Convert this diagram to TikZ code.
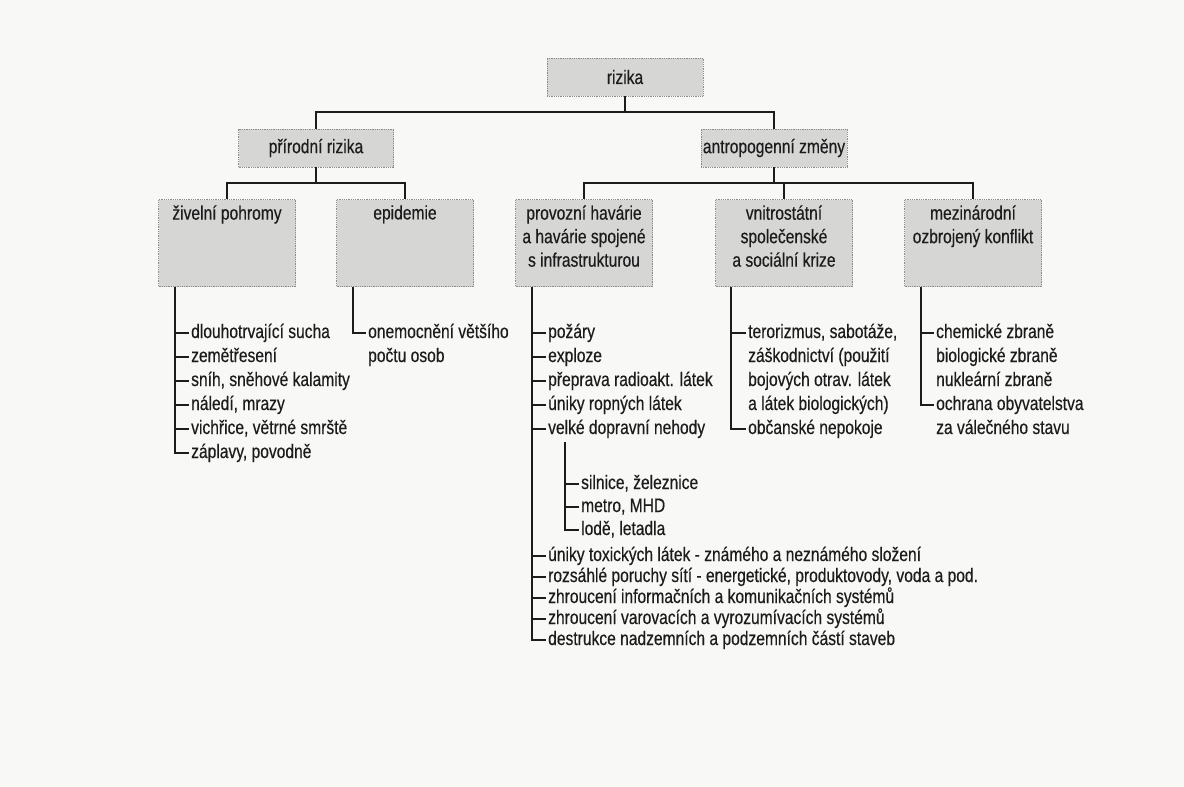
\documentclass[tikz,border=0pt]{standalone}
\usepackage{fontspec}
\setmainfont{Liberation Sans}[FakeStretch=0.8, FakeBold=0.4]
\usetikzlibrary{positioning}
\definecolor{paper}{RGB}{248,249,246}
\definecolor{boxfill}{RGB}{214,214,212}
\definecolor{boxline}{RGB}{140,140,140}
\definecolor{ink}{RGB}{28,28,28}
\tikzset{
  tree/.style={draw=ink, line width=1.4pt},
  headbox/.style={fill=boxfill, draw=boxline, densely dotted, line width=0.8pt, minimum height=38pt, inner sep=0pt, text=ink},
  catbox/.style={fill=boxfill, draw=boxline, densely dotted, line width=0.8pt, minimum width=137pt, minimum height=87pt, inner sep=0pt},
  cattext/.style={align=center, inner sep=0pt, text=ink},
  item/.style={anchor=west, inner xsep=2pt, inner ysep=0pt, text height=14pt, text depth=4pt, text=ink},
}
\begin{document}
\begin{tikzpicture}[x=1pt, y=-1pt, font=\fontsize{19.5}{23.5}\selectfont]
\fill[paper] (0,0) rectangle (1184,787);
\useasboundingbox (0,0) rectangle (1184,787);

% horni uroven
\node[headbox, minimum width=156pt] (rizika) at (625,77) {rizika};
\node[headbox, minimum width=155pt] (prir) at (316,148) {přírodní rizika};
\node[headbox, minimum width=146pt] (antro) at (774,148) {antropogenní změny};
\coordinate (j1) at (rizika.south |- 0,112);
\draw[tree] (rizika) -- (j1);
\draw[tree] (prir.north) |- (j1) -| (antro.north);

% kategorie
\node[catbox] (zivel) at (227,243) {};
\node[catbox] (epid) at (405,243) {};
\node[catbox] (prov) at (584,243) {};
\node[catbox] (vnitro) at (784,243) {};
\node[catbox] (mezi) at (973,243) {};
\node[cattext, below=6pt of zivel.north] {živelní pohromy};
\node[cattext, below=6pt of epid.north] {epidemie};
\node[cattext, below=6pt of prov.north] {provozní havárie\\a havárie spojené\\s infrastrukturou};
\node[cattext, below=6pt of vnitro.north] {vnitrostátní\\společenské\\a sociální krize};
\node[cattext, below=6pt of mezi.north] {mezinárodní\\ozbrojený konflikt};

\coordinate (j2) at (prir.south |- 0,183);
\draw[tree] (prir) -- (j2);
\draw[tree] (zivel.north) |- (j2) -| (epid.north);
\coordinate (j3) at (antro.south |- 0,183);
\draw[tree] (antro) -- (j3);
\draw[tree] (prov.north) |- (j3) -| (mezi.north);
\draw[tree] (vnitro.north) -- (vnitro.north |- j3);

% zivelni pohromy
\coordinate (ziv-l) at ([xshift=17pt]zivel.south west);
\foreach \t [count=\i] in {dlouhotrvající sucha, zemětřesení, {sníh, sněhové kalamity},
    {náledí, mrazy}, {vichřice, větrné smrště}, {záplavy, povodně}}
  \node[item] (ziv\i) at (189,{309+24*\i}) {\t};
\foreach \i in {1,...,5} \draw[tree] (ziv\i.west -| ziv-l) -- (ziv\i.west);
\draw[tree] (ziv-l) |- (ziv6.west);

% epidemie
\coordinate (epi-l) at ([xshift=17pt]epid.south west);
\node[item] (epi1) at (366,333) {onemocnění většího};
\node[item] (epi2) at (366,357) {počtu osob};
\draw[tree] (epi-l) |- (epi1.west);

% provozni havarie
\coordinate (prov-l) at ([xshift=17pt]prov.south west);
\foreach \t [count=\i] in {požáry, exploze, přeprava radioakt. látek, úniky ropných látek,
    velké dopravní nehody}
  \node[item] (prov\i) at (546,{309+24*\i}) {\t};
\foreach \t [count=\i from 6] in {úniky toxických látek - známého a neznámého složení,
    {rozsáhlé poruchy sítí - energetické, produktovody, voda a pod.},
    zhroucení informačních a komunikačních systémů,
    zhroucení varovacích a vyrozumívacích systémů,
    destrukce nadzemních a podzemních částí staveb}
  \node[item] (prov\i) at (546,{430+21*\i}) {\t};
\foreach \i in {1,...,9} \draw[tree] (prov\i.west -| prov-l) -- (prov\i.west);
\draw[tree] (prov-l) |- (prov10.west);

% dopravni nehody
\coordinate (dop-l) at (565,442);
\foreach \t [count=\i] in {{silnice, železnice}, {metro, MHD}, {lodě, letadla}}
  \node[item] (dop\i) at (579,{461+23*\i}) {\t};
\foreach \i in {1,2} \draw[tree] (dop\i.west -| dop-l) -- (dop\i.west);
\draw[tree] (dop-l) |- (dop3.west);

% vnitrostatni krize
\coordinate (vni-l) at ([xshift=16pt]vnitro.south west);
\foreach \t [count=\i] in {{terorizmus, sabotáže,}, záškodnictví (použití, bojových otrav. látek,
    a látek biologických), občanské nepokoje}
  \node[item] (vni\i) at (746,{309+24*\i}) {\t};
\draw[tree] (vni1.west -| vni-l) -- (vni1.west);
\draw[tree] (vni-l) |- (vni5.west);

% mezinarodni konflikt
\coordinate (mez-l) at ([xshift=17pt]mezi.south west);
\foreach \t [count=\i] in {chemické zbraně, biologické zbraně, nukleární zbraně,
    ochrana obyvatelstva, za válečného stavu}
  \node[item] (mez\i) at (934,{309+24*\i}) {\t};
\draw[tree] (mez1.west -| mez-l) -- (mez1.west);
\draw[tree] (mez-l) |- (mez4.west);
\end{tikzpicture}
\end{document}
